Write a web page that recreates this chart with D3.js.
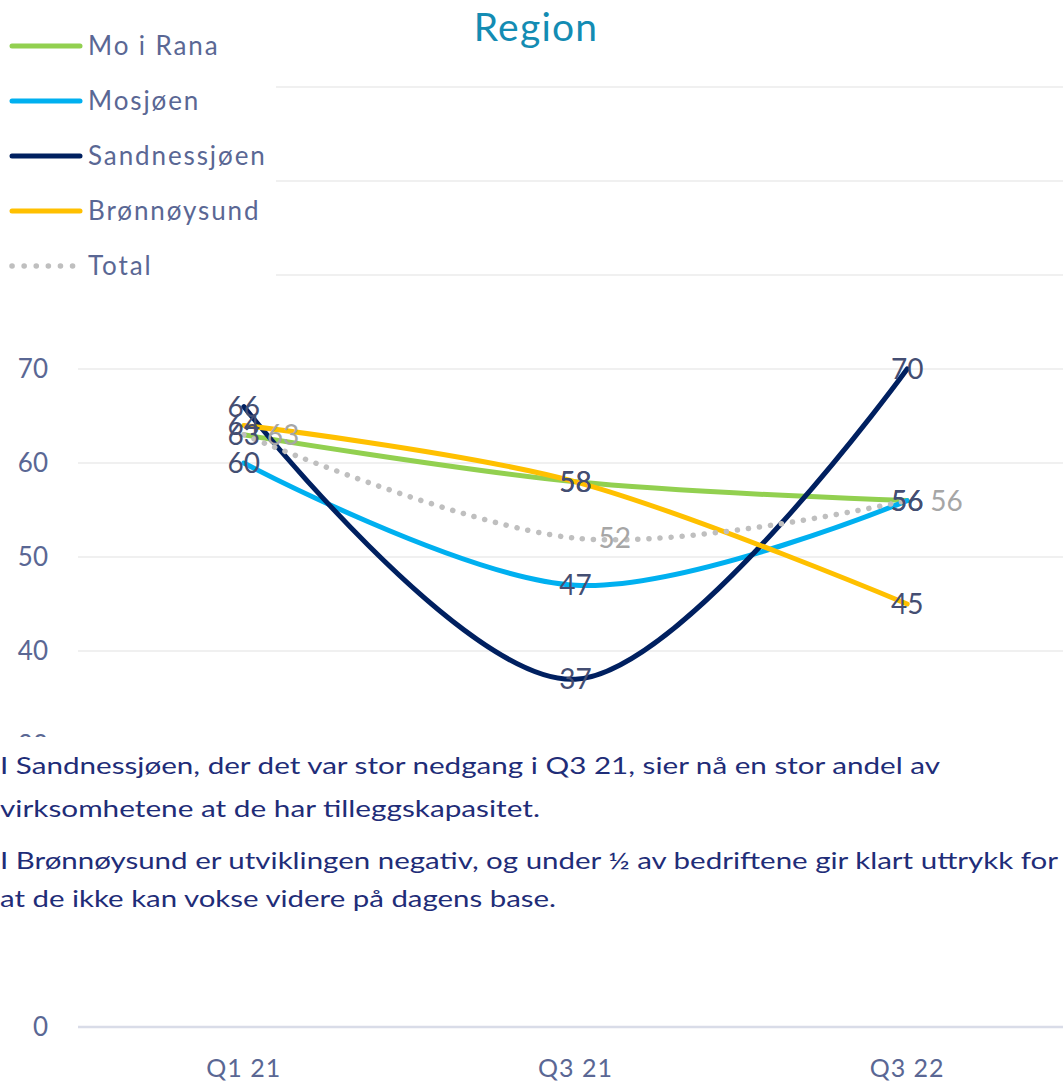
<!DOCTYPE html>
<html>
<head>
<meta charset="utf-8">
<script src="https://cdn.jsdelivr.net/npm/d3@7"></script>
<style>
  body { margin: 0; background: #fff; }
  svg { display: block; font-family: Lato, "Open Sans", sans-serif; }
</style>
</head>
<body>
<svg id="chart"></svg>
<script>
// chart data
var quarters = ["Q1 21", "Q3 21", "Q3 22"];
var seriesNames = ["Mo i Rana", "Mosjøen", "Sandnessjøen", "Brønnøysund", "Total"];
var moIRana = [63, 58, 56];
var mosjoen = [60, 47, 56];
var sandnessjoen = [66, 37, 70];
var bronnoysund = [64, 58, 45];
var total = [63, 52, 56];
var yTicks = [0, 10, 20, 30, 40, 50, 60, 70, 80, 90, 100];
var noteLines = [
  "I Sandnessjøen, der det var stor nedgang i Q3 21, sier nå en stor andel av",
  "virksomhetene at de har tilleggskapasitet.",
  "I Brønnøysund er utviklingen negativ, og under ½ av bedriftene gir klart uttrykk for",
  "at de ikke kan vokse videre på dagens base."
];

var colors = ["#92d050", "#00b0f0", "#002060", "#ffc000", "#bfbfbf"];
var allValues = [moIRana, mosjoen, sandnessjoen, bronnoysund, total];

var width = 1063, height = 1083;
var svg = d3.select("#chart").attr("width", width).attr("height", height);

// scales
var x = d3.scalePoint()
    .domain(quarters)
    .range([78, 1073])
    .padding(0.5);

var y = d3.scaleLinear()
    .domain([0, 100])
    .range([1027, 87]);

// gridlines
svg.append("g")
  .selectAll("line")
  .data(yTicks)
  .enter()
  .append("line")
    .attr("x1", 78)
    .attr("x2", 1073)
    .attr("y1", function(d) { return y(d); })
    .attr("y2", function(d) { return y(d); })
    .attr("stroke", function(d) { return d === 0 ? "#d9dce8" : "#f0f0f0"; })
    .attr("stroke-width", function(d) { return d === 0 ? 2.5 : 2; });

// y tick labels
svg.append("g")
  .selectAll("text")
  .data(yTicks)
  .enter()
  .append("text")
    .attr("x", 48)
    .attr("y", function(d) { return y(d); })
    .attr("dy", "0.36em")
    .attr("text-anchor", "end")
    .attr("fill", "#5a6794")
    .attr("font-size", 26)
    .text(function(d) { return d; });

// x labels
svg.append("g")
  .selectAll("text")
  .data(quarters)
  .enter()
  .append("text")
    .attr("x", function(d) { return x(d); })
    .attr("y", 1077)
    .attr("text-anchor", "middle")
    .attr("fill", "#5a6794")
    .attr("font-size", 25)
    .attr("letter-spacing", 1)
    .text(function(d) { return d; });

// lines
var line = d3.line()
    .x(function(d, i) { return x(quarters[i]); })
    .y(function(d) { return y(d); })
    .curve(d3.curveCardinal.tension(0));

svg.append("g")
  .selectAll("path")
  .data(allValues)
  .enter()
  .append("path")
    .attr("d", function(d) { return line(d); })
    .attr("fill", "none")
    .attr("stroke", function(d, i) { return colors[i]; })
    .attr("stroke-width", function(d, i) { return i === 4 ? 5.5 : 5; })
    .attr("stroke-linecap", "round")
    .attr("stroke-dasharray", function(d, i) { return i === 4 ? "0.1 11" : null; });

// data labels
var labels = svg.append("g");
allValues.forEach(function(vals, s) {
  labels.selectAll(null)
    .data(vals)
    .enter()
    .append("text")
      .attr("x", function(d, i) { return x(quarters[i]) + (s === 4 ? 23 : 0); })
      .attr("y", function(d) { return y(d); })
      .attr("dy", "0.36em")
      .attr("text-anchor", s === 4 ? "start" : "middle")
      .attr("fill", s === 4 ? "#a6a6a6" : "#444e72")
      .attr("font-size", 28)
      .text(function(d) { return d; });
});

// white box holding the note text (covers lower gridlines)
svg.append("rect")
    .attr("x", 0).attr("y", 737)
    .attr("width", width).attr("height", 275)
    .attr("fill", "#fff");

svg.append("g")
  .selectAll("text")
  .data(noteLines)
  .enter()
  .append("text")
    .attr("x", 0)
    .attr("y", function(d, i) { return [774, 817, 869, 907][i]; })
    .attr("fill", "#1f2d78")
    .attr("font-size", 24)
    .attr("textLength", function(d, i) { return [940, 540, 1058, 556][i]; })
    .attr("lengthAdjust", "spacingAndGlyphs")
    .text(function(d) { return d; });

// legend box
svg.append("rect")
    .attr("x", 0).attr("y", 0)
    .attr("width", 276).attr("height", 300)
    .attr("fill", "#fff");

var legend = svg.append("g")
  .selectAll("g")
  .data(seriesNames)
  .enter()
  .append("g")
    .attr("transform", function(d, i) { return "translate(0," + (46 + i * 55) + ")"; });

legend.append("line")
    .attr("x1", 12).attr("x2", function(d, i) { return i === 4 ? 74 : 80; })
    .attr("y1", 0).attr("y2", 0)
    .attr("stroke", function(d, i) { return colors[i]; })
    .attr("stroke-width", function(d, i) { return i === 4 ? 5.5 : 5; })
    .attr("stroke-linecap", "round")
    .attr("stroke-dasharray", function(d, i) { return i === 4 ? "0.1 12" : null; });

legend.append("text")
    .attr("x", 88)
    .attr("y", 0)
    .attr("dy", "0.36em")
    .attr("fill", "#5a6794")
    .attr("font-size", 26)
    .attr("letter-spacing", 1.9)
    .text(function(d) { return d; });

// title
svg.append("text")
    .attr("x", 536)
    .attr("y", 41)
    .attr("text-anchor", "middle")
    .attr("fill", "#138cb3")
    .attr("font-size", 39)
    .attr("letter-spacing", 1.2)
    .text("Region");
</script>
</body>
</html>
